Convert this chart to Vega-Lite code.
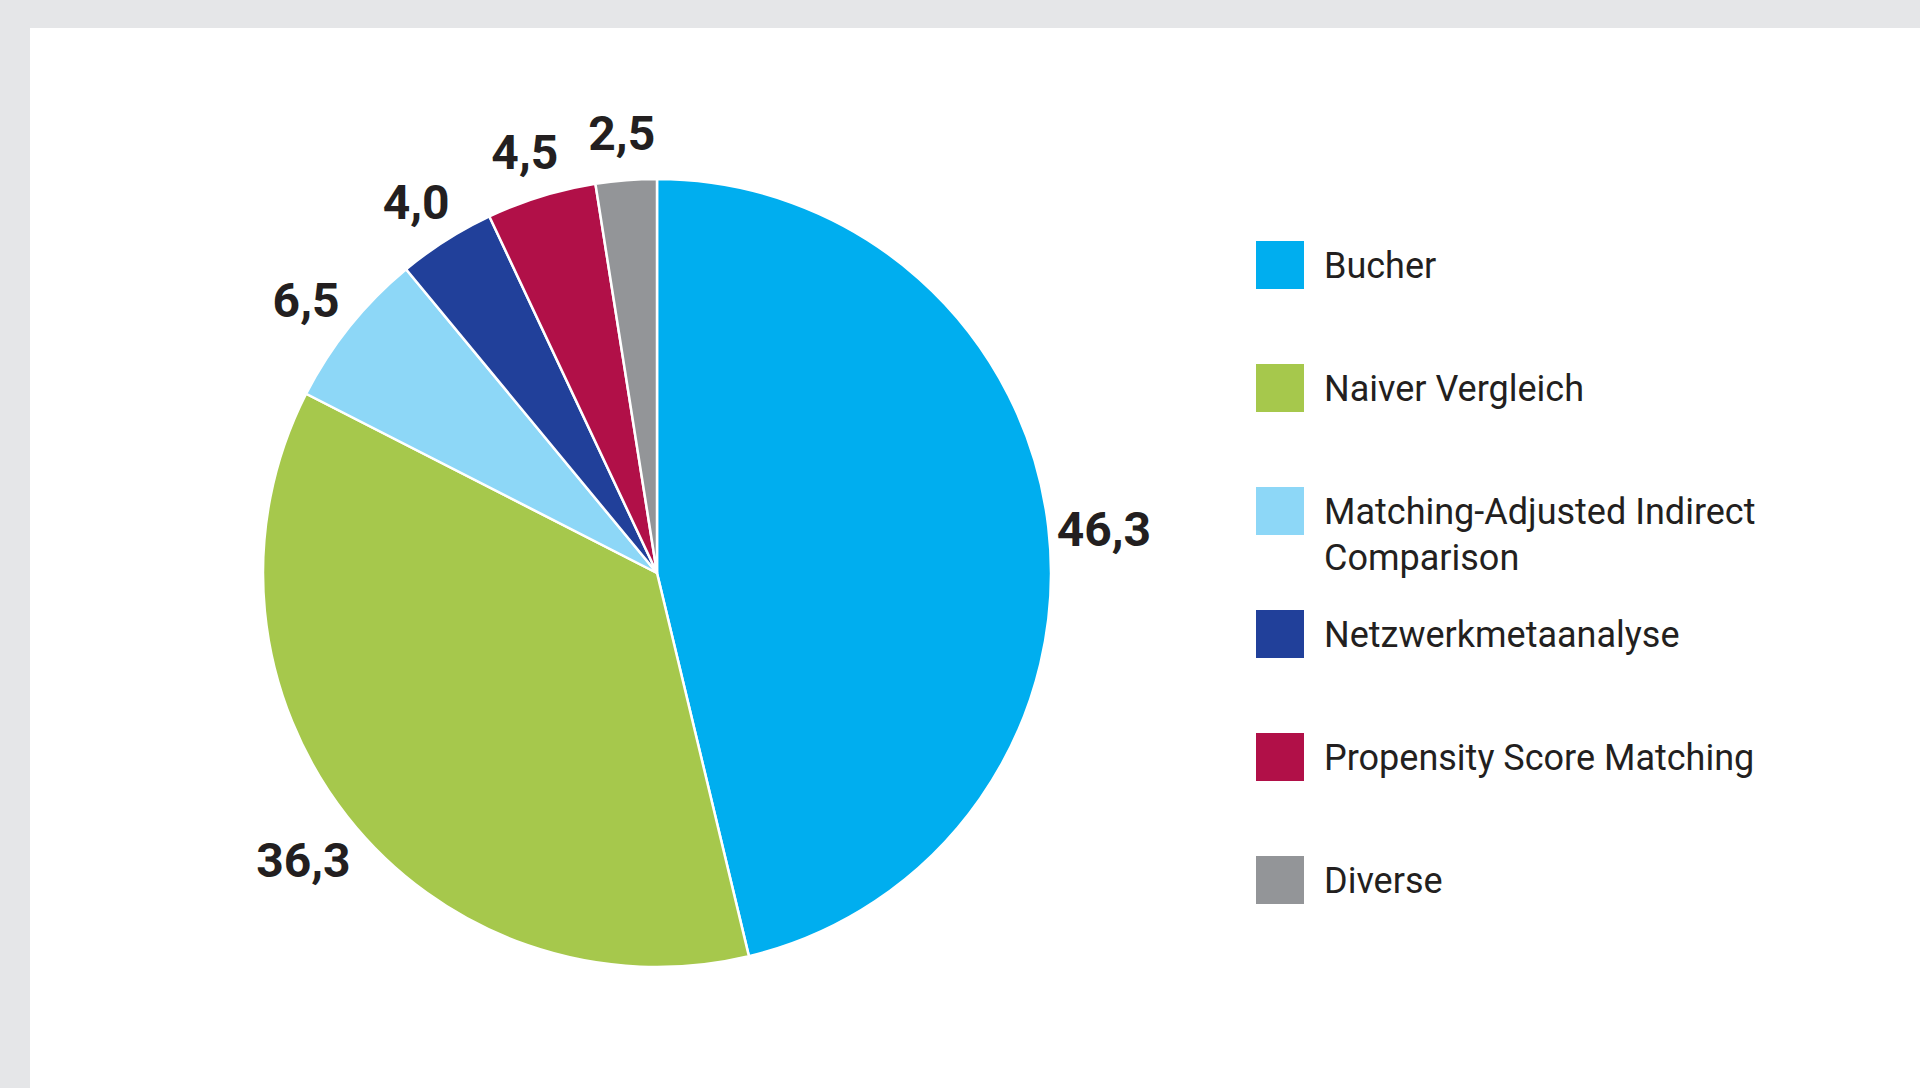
{
  "$schema": "https://vega.github.io/schema/vega-lite/v6.json",
  "background": "#e5e6e8",
  "padding": {"left": 30, "top": 28, "right": 0, "bottom": -30},
  "spacing": 0,
  "config": {
    "view": {"fill": "#ffffff", "stroke": "#ffffff", "strokeWidth": 0},
    "locale": {"number": {"decimal": ",", "thousands": ".", "grouping": [3], "currency": ["", " €"]}},
    "style": {"guide-label": {"dy": 13, "lineHeight": 46}},
    "legend": {
      "orient": "none",
      "legendX": 1226,
      "legendY": 213,
      "title": null,
      "symbolType": "square",
      "symbolSize": 2304,
      "symbolStrokeWidth": 0,
      "symbolOpacity": 1,
      "labelFont": "Roboto, sans-serif",
      "labelFontSize": 36,
      "labelColor": "#231f20",
      "labelOffset": 20,
      "labelLimit": 900,
      "labelBaseline": "alphabetic",
      "gridAlign": "all",
      "rowPadding": 33
    }
  },
  "hconcat": [
    {
      "width": 1254,
      "height": 1090,
      "view": {"fill": "#ffffff", "stroke": "#ffffff", "strokeWidth": 0},
      "data": {
        "values": [
          {"method": "Bucher", "share": 46.3, "rank": 1},
          {"method": "Naiver Vergleich", "share": 36.3, "rank": 2},
          {"method": "Matching-Adjusted Indirect Comparison", "share": 6.5, "rank": 3},
          {"method": "Netzwerkmetaanalyse", "share": 4.0, "rank": 4},
          {"method": "Propensity Score Matching", "share": 4.5, "rank": 5},
          {"method": "Diverse", "share": 2.5, "rank": 6}
        ]
      },
      "layer": [
        {
          "mark": {"type": "arc", "outerRadius": 394, "stroke": "#ffffff", "strokeWidth": 2.5},
          "encoding": {
            "theta": {"field": "share", "type": "quantitative", "stack": true},
            "order": {"field": "rank", "type": "quantitative"},
            "color": {
              "field": "method",
              "type": "nominal",
              "scale": {
                "domain": ["Bucher", "Naiver Vergleich", "Matching-Adjusted Indirect Comparison", "Netzwerkmetaanalyse", "Propensity Score Matching", "Diverse"],
                "range": ["#00aeef", "#a6c84c", "#8dd7f7", "#21409a", "#b11048", "#939598"]
              },
              "legend": {
                "labelExpr": "datum.label == 'Matching-Adjusted Indirect Comparison' ? ['Matching-Adjusted Indirect', 'Comparison'] : datum.label",
                "encode": {"labels": {"dy": {"value": 13}, "lineHeight": {"value": 46}}}
              }
            }
          }
        },
        {
          "mark": {"type": "text", "radius": 450, "dy": 12, "font": "Roboto, sans-serif", "fontWeight": "bold", "fontSize": 48, "color": "#231f20"},
          "encoding": {
            "theta": {"field": "share", "type": "quantitative", "stack": true},
            "order": {"field": "rank", "type": "quantitative"},
            "detail": {"field": "method", "type": "nominal"},
            "text": {"field": "share", "type": "quantitative", "format": ".1f"}
          }
        }
      ]
    },
    {
      "width": 636,
      "height": 1090,
      "view": {"fill": "#ffffff", "stroke": "#ffffff", "strokeWidth": 0},
      "data": {"values": [{}]},
      "mark": {"type": "text", "text": ""},
      "encoding": {}
    }
  ]
}
